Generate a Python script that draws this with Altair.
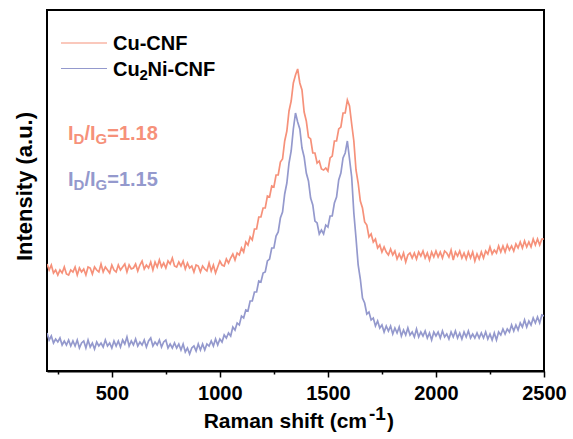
import altair as alt
import pandas as pd

# Raman shift (cm^-1), one reading every 10 cm^-1
shift = list(range(200, 2501, 10))

# Intensities (a.u.)
cu_cnf = [
    107, 101, 106, 98, 101, 96, 101, 98, 104, 97, 96,
    101, 99, 104, 96, 103, 99, 102, 96, 104, 103,
    97, 104, 101, 99, 107, 99, 104, 101, 98, 106,
    101, 99, 106, 101, 104, 107, 99, 106, 102, 103,
    107, 100, 106, 110, 102, 106, 103, 109, 101, 109,
    104, 111, 104, 108, 103, 110, 107, 113, 105, 104,
    109, 105, 110, 102, 108, 103, 105, 99, 106, 105,
    99, 105, 102, 100, 108, 100, 106, 98, 104, 110,
    106, 105, 112, 108, 113, 117, 111, 118, 116, 123,
    119, 129, 126, 134, 131, 142, 142, 154, 154, 163,
    163, 175, 174, 185, 184, 196, 196, 209, 212, 230,
    240, 260, 270, 288, 296, 302, 288, 281, 259, 250,
    234, 232, 218, 218, 208, 210, 202, 201, 203, 200,
    213, 215, 230, 230, 242, 244, 258, 258, 271, 265,
    247, 230, 201, 188, 170, 163, 149, 146, 134, 137,
    129, 132, 123, 126, 119, 124, 119, 116, 122, 116,
    120, 112, 117, 112, 118, 109, 116, 118, 113, 118,
    112, 119, 115, 120, 113, 118, 111, 119, 114, 120,
    114, 119, 113, 120, 118, 114, 121, 111, 119, 115,
    120, 113, 118, 112, 119, 113, 119, 110, 117, 112,
    119, 113, 120, 117, 124, 117, 121, 118, 125, 119,
    125, 119, 126, 121, 125, 120, 127, 123, 129, 123,
    130, 124, 129, 124, 132, 126, 132, 126, 132, 132,
]

cu2ni_cnf = [
    38, 31, 35, 28, 32, 29, 33, 26, 30, 26, 31,
    25, 30, 25, 31, 23, 28, 30, 23, 31, 24,
    28, 22, 29, 25, 28, 24, 31, 25, 28, 23,
    30, 25, 30, 24, 31, 27, 34, 25, 30, 26,
    32, 25, 29, 26, 31, 24, 30, 33, 25, 29,
    26, 31, 24, 29, 31, 23, 27, 23, 28, 23,
    27, 21, 27, 19, 23, 17, 23, 25, 20, 27,
    21, 27, 21, 27, 25, 30, 25, 32, 26, 32,
    29, 36, 33, 38, 35, 44, 41, 48, 46, 55,
    53, 61, 60, 70, 70, 79, 79, 90, 89, 98,
    99, 110, 112, 123, 123, 135, 139, 153, 159, 177,
    188, 208, 220, 242, 258, 249, 242, 223, 214, 198,
    190, 173, 166, 150, 148, 137, 141, 137, 146, 144,
    155, 155, 168, 174, 191, 198, 213, 218, 230, 212,
    194, 158, 133, 106, 92, 73, 68, 57, 59, 51,
    53, 45, 50, 43, 46, 39, 45, 40, 45, 37,
    43, 38, 44, 35, 41, 36, 43, 36, 39, 34,
    42, 34, 39, 35, 40, 33, 38, 31, 39, 35,
    39, 33, 40, 34, 37, 32, 39, 34, 40, 33,
    38, 32, 39, 34, 40, 33, 37, 33, 38, 33,
    38, 33, 39, 32, 37, 31, 38, 31, 39, 36,
    42, 37, 42, 39, 46, 40, 46, 41, 48, 44,
    51, 44, 50, 46, 53, 48, 54, 48, 56, 55,
]

samples = ["Cu-CNF", "Cu2Ni-CNF"]
tick_values = [250, 500, 750, 1000, 1250, 1500, 1750, 2000, 2250, 2500]

ORANGE = "#F6917A"
BLUE = "#9499CD"
FONT = "Liberation Sans"

df = pd.DataFrame({
    "shift": shift + shift,
    "intensity": cu_cnf + cu2ni_cnf,
    "sample": [samples[0]] * len(shift) + [samples[1]] * len(shift),
})

lines = alt.Chart(df).mark_line(strokeWidth=1.7, clip=True).encode(
    x=alt.X(
        "shift:Q",
        scale=alt.Scale(domain=[200, 2500], nice=False, zero=False),
        axis=alt.Axis(
            values=tick_values,
            format="d",
            labelExpr="datum.value % 500 === 0 ? datum.label : ''",
            title=None,
            grid=False,
            domainColor="black",
            domainWidth=2,
            tickColor="black",
            tickWidth=1.5,
            tickSize={"condition": {"test": "datum.value % 500 !== 0", "value": 3}, "value": 6},
            labelFont=FONT,
            labelFontSize=20,
            labelFontWeight="bold",
            labelColor="black",
            labelPadding=6,
            labelFlush=False,
            labelOverlap=False,
        ),
    ),
    y=alt.Y("intensity:Q", scale=alt.Scale(domain=[0, 361], nice=False, zero=False), axis=None),
    color=alt.Color("sample:N", scale=alt.Scale(domain=samples, range=[ORANGE, BLUE]), legend=None),
)


def txt(s, x, y, size, color="black", align="left", angle=None):
    kw = dict(text=s, font=FONT, fontSize=size, fontWeight="bold", color=color,
              align=align, baseline="alphabetic")
    if angle is not None:
        kw["angle"] = angle
    return alt.Chart(pd.DataFrame({"t": [s]})).mark_text(**kw).encode(
        x=alt.value(x), y=alt.value(y)
    )


def leg_line(y, color):
    return alt.Chart(pd.DataFrame({"t": [0]})).mark_rule(color=color, strokeWidth=1.2).encode(
        x=alt.value(14), x2=alt.value(60), y=alt.value(y)
    )


layers = [
    lines,
    # legend
    leg_line(33, ORANGE),
    leg_line(58.5, BLUE),
    txt("Cu-CNF", 66, 40, 20),
    txt("Cu", 66, 66, 20),
    txt("2", 92.5, 70, 15),
    txt("Ni-CNF", 100.5, 66, 20),
    # I_D/I_G annotations
    txt("I", 21, 130, 20, ORANGE),
    txt("D", 26.6, 133.5, 15, ORANGE),
    txt("/I", 37.4, 130, 20, ORANGE),
    txt("G", 48.5, 133.5, 15, ORANGE),
    txt("=1.18", 60.2, 130, 20, ORANGE),
    txt("I", 21, 176, 20, BLUE),
    txt("D", 26.6, 179.5, 15, BLUE),
    txt("/I", 37.4, 176, 20, BLUE),
    txt("G", 48.5, 179.5, 15, BLUE),
    txt("=1.15", 60.2, 176, 20, BLUE),
    # axis titles
    txt("Raman shift (cm", 320, 418, 21, align="right"),
    txt("-1", 322, 410, 19),
    txt(")", 340, 418, 21),
    txt("Intensity (a.u.)", -15, 176.5, 22, align="center", angle=270),
]

chart = alt.layer(*layers).properties(
    width=497,
    height=361,
    padding={"left": 47, "top": 10, "right": 29, "bottom": 68},
    autosize=alt.AutoSizeParams(type="none"),
    background="white",
).configure_view(stroke="black", strokeWidth=2)

chart.save("out.html", embed_options={"renderer": "svg", "actions": False})
